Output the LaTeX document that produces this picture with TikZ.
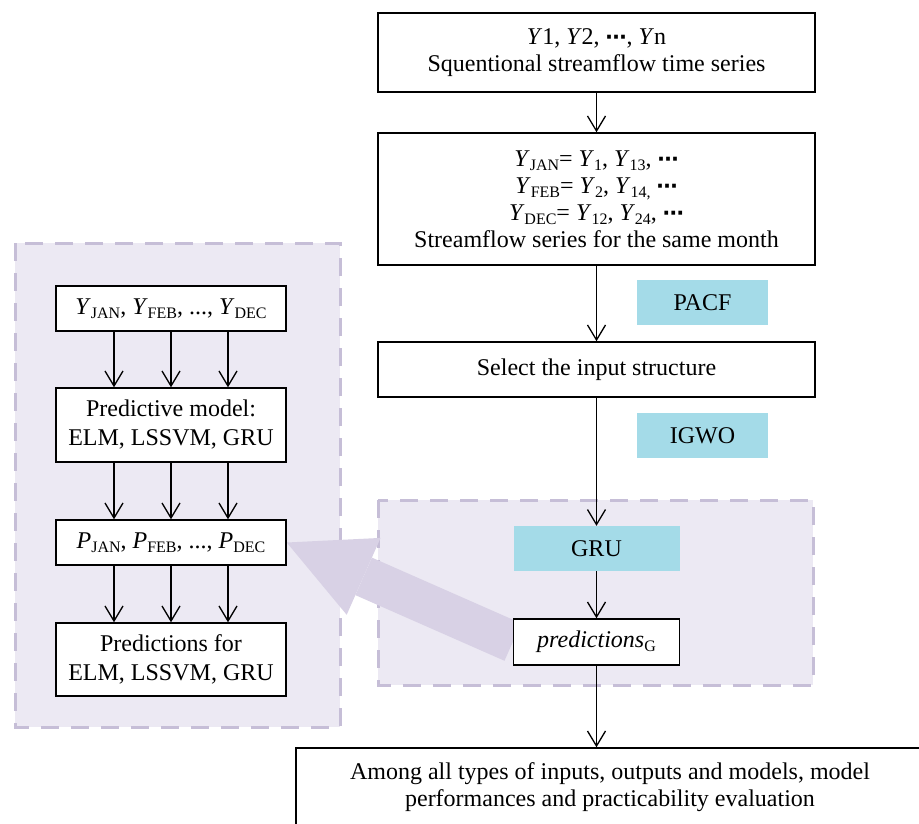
\documentclass[tikz,border=0pt]{standalone}
\usepackage{fontspec}
\setmainfont{Liberation Serif}
\newfontfamily\symfont{DejaVu Sans}
\usetikzlibrary{arrows.meta,backgrounds}

\definecolor{panelfill}{RGB}{236,233,243}
\definecolor{paneledge}{RGB}{198,190,215}
\definecolor{bigarrowcol}{RGB}{216,209,229}
\definecolor{toolcyan}{RGB}{164,219,232}

% lowered small-size index, e.g. Y_JAN
\newcommand{\lsub}[1]{\raisebox{-4pt}{\fontsize{16}{16}\selectfont #1}}
% centred ellipsis
\newcommand{\mdots}{{\symfont\bfseries\fontsize{21}{21}\selectfont ⋯}}

\tikzset{
  box/.style={draw=black, line width=1.5pt, fill=white, align=center,
    inner sep=0pt, font=\fontsize{24}{27}\selectfont},
  lbox/.style={box, minimum width=230pt, font=\fontsize{24}{29}\selectfont},
  toolbox/.style={fill=toolcyan, inner sep=0pt, minimum width=131pt,
    minimum height=45pt, font=\fontsize{24}{27}\selectfont},
  panel/.style={draw=paneledge, fill=panelfill, line width=3pt,
    dash pattern=on 18pt off 12pt},
  arr/.style={draw=black, line width=1.3pt,
    -{Straight Barb[length=15pt,width=18pt,line width=1.3pt]}},
  bigarrow/.style={draw=bigarrowcol, line width=41pt,
    -{Triangle[length=84pt,width=84pt,line width=0pt]}},
}

\begin{document}
\begin{tikzpicture}[x=1pt,y=-1pt]
\useasboundingbox (0,0) rectangle (919,823);

% main column
\node[box, minimum width=437pt, minimum height=79pt] (series) at (596.5,52.5)
  {\textit{Y}1, \textit{Y}2, \mdots, \textit{Y}n\\Squentional streamflow time series};
\node[box, minimum width=437pt, minimum height=132pt] (months) at (596.5,199)
  {\textit{Y}\lsub{JAN}= \textit{Y}\lsub{1}, \textit{Y}\lsub{13}, \mdots\\
   \textit{Y}\lsub{FEB}= \textit{Y}\lsub{2}, \textit{Y}\lsub{14,} \mdots\\
   \textit{Y}\lsub{DEC}= \textit{Y}\lsub{12}, \textit{Y}\lsub{24}, \mdots\\
   Streamflow series for the same month};
\node[toolbox] (pacf) at (702.5,302.5) {PACF};
\node[box, minimum width=437pt, minimum height=55pt] (select) at (596.5,369.5)
  {Select the input structure};
\node[toolbox] (igwo) at (702.5,435.5) {IGWO};
\node[toolbox, minimum width=166pt] (gru) at (596.5,548.5) {GRU};
\node[box, minimum width=166pt, minimum height=46pt] (predg) at (596.5,642)
  {\textit{predictions}\lsub{G}};
\node[box, minimum width=628pt, minimum height=78pt] (evaluation) at (610,787)
  {Among all types of inputs, outputs and models, model\\
   performances and practicability evaluation};

\draw[arr] (series) -- (months);
\draw[arr] (months.south -| select.north) -- (select.north);
\draw[arr] (select.south) -- (gru.north);
\draw[arr] (gru) -- (predg);
\draw[arr] (predg.south) -- (predg.south |- evaluation.north);

% monthly models panel
\node[lbox, minimum height=45pt] (ymonth) at (171,308.5)
  {\textit{Y}\lsub{JAN}, \textit{Y}\lsub{FEB}, ..., \textit{Y}\lsub{DEC}};
\node[lbox, minimum height=74pt] (models) at (171,425)
  {Predictive model:\\ELM, LSSVM, GRU};
\node[lbox, minimum height=45pt] (pmonth) at (171,542.5)
  {\textit{P}\lsub{JAN}, \textit{P}\lsub{FEB}, ..., \textit{P}\lsub{DEC}};
\node[lbox, minimum height=73pt] (final) at (171,659.5)
  {Predictions for\\ELM, LSSVM, GRU};

\foreach \dx in {-57,0,57}{
  \draw[arr] ([xshift=\dx pt]ymonth.south) -- ([xshift=\dx pt]models.north);
  \draw[arr] ([xshift=\dx pt]models.south) -- ([xshift=\dx pt]pmonth.north);
  \draw[arr] ([xshift=\dx pt]pmonth.south) -- ([xshift=\dx pt]final.north);
}

\begin{scope}[on background layer]
  % shaded panels
  \draw[panel] (15,243) rectangle (340,727);
  \draw[panel] (378,500) rectangle (813,685);
  % transfer of the GRU predictions to the monthly panel
  \draw[bigarrow] (predg.west) -- (pmonth.east);
\end{scope}
\end{tikzpicture}
\end{document}
